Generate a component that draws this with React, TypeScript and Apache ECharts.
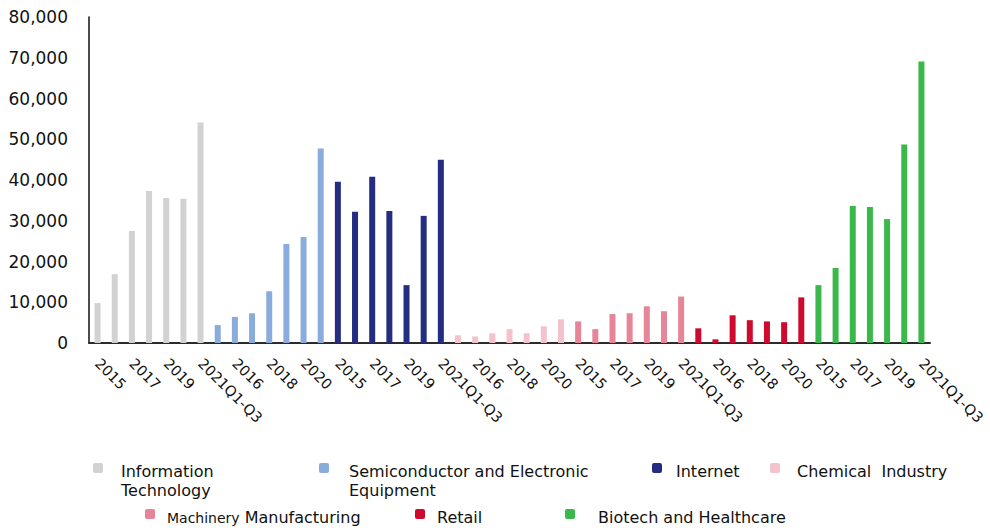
import React, { useEffect, useRef } from 'react';
import * as echarts from 'echarts';

const years = ['2015', '2016', '2017', '2018', '2019', '2020', '2021Q1-Q3'];
const industries = [
  'Information Technology',
  'Semiconductor and Electronic Equipment',
  'Internet',
  'Chemical  Industry',
  'Machinery Manufacturing',
  'Retail',
  'Biotech and Healthcare',
];
const itValues = [9800, 16900, 27500, 37300, 35600, 35400, 54100];
const semiValues = [4400, 6400, 7300, 12700, 24300, 26000, 47700];
const internetValues = [39600, 32200, 40800, 32400, 14200, 31200, 45000];
const chemicalValues = [1900, 1600, 2400, 3400, 2400, 4100, 5800];
const machineryValues = [5300, 3400, 7100, 7300, 9000, 7800, 11400];
const retailValues = [3600, 900, 6800, 5600, 5300, 5100, 11200];
const biotechValues = [14200, 18400, 33600, 33400, 30400, 48700, 69100];
const yTicks = { min: 0, max: 80000, interval: 10000 };

const seriesValues = [itValues, semiValues, internetValues, chemicalValues, machineryValues, retailValues, biotechValues];
const colors = ['#D2D2D2', '#8AACDC', '#252D80', '#F4C2CC', '#E68598', '#CE0A2E', '#3BB84B'];
const FONT = 'DejaVu Sans';

// legend label text (display) and layout (style only)
const legendTexts = [
  'Information\nTechnology',
  'Semiconductor and Electronic\nEquipment',
  'Internet',
  'Chemical  Industry',
  '{s|Machinery} {n|Manufacturing}',
  'Retail',
  'Biotech and Healthcare',
];
const legendLayout = [
  { ix: 93, iy: 463, tx: 121, ty: 461.5 },
  { ix: 319, iy: 463, tx: 349, ty: 461.5 },
  { ix: 652, iy: 463, tx: 676, ty: 461.5 },
  { ix: 770, iy: 463, tx: 797, ty: 461.5 },
  { ix: 145, iy: 509, tx: 167, ty: 508.3 },
  { ix: 415, iy: 509, tx: 437, ty: 508.3 },
  { ix: 565, iy: 509, tx: 598, ty: 508.3 },
];

export default function App() {
  const ref = useRef<HTMLDivElement>(null);
  useEffect(() => {
    document.body.style.margin = '0';
    const chart = echarts.init(ref.current!, null, { renderer: 'svg' });
    const categories: string[] = [];
    industries.forEach(() => years.forEach((y) => categories.push(y)));
    const n = categories.length;
    const series = industries.map((name, g) => {
      const data: (number | string)[] = new Array(n).fill('-');
      seriesValues[g].forEach((v, i) => {
        data[g * years.length + i] = v;
      });
      return {
        name,
        type: 'bar',
        stack: 'all',
        barWidth: 6,
        data,
        itemStyle: { color: colors[g] },
      };
    });
    const graphic: any[] = [];
    industries.forEach((name, i) => {
      const l = legendLayout[i];
      graphic.push({
        type: 'rect',
        shape: { x: l.ix, y: l.iy, width: 10, height: 10, r: 2 },
        style: { fill: colors[i] },
      });
      graphic.push({
        type: 'text',
        x: l.tx,
        y: l.ty,
        style: {
          text: legendTexts[i],
          fontSize: 16,
          fontFamily: FONT,
          fill: '#111',
          lineHeight: 19,
          verticalAlign: 'top',
          rich: {
            s: { fontSize: 14, fontFamily: FONT, fill: '#111', lineHeight: 19 },
            n: { fontSize: 16, fontFamily: FONT, fill: '#111', lineHeight: 19 },
          },
        },
      });
    });
    chart.setOption({
      animation: false,
      textStyle: { fontFamily: FONT },
      grid: { left: 89, right: 60, top: 17, bottom: 185, containLabel: false },
      xAxis: {
        type: 'category',
        data: categories,
        axisLine: { show: true, lineStyle: { color: '#2b2b2b', width: 2 } },
        axisTick: { show: false },
        axisLabel: {
          interval: 1,
          rotate: -45,
          margin: 18,
          fontSize: 14.5,
          fontFamily: FONT,
          color: '#111',
        },
      },
      yAxis: {
        type: 'value',
        min: yTicks.min,
        max: yTicks.max,
        interval: yTicks.interval,
        axisLine: { show: true, lineStyle: { color: '#111', width: 1.5 } },
        axisTick: { show: false },
        splitLine: { show: false },
        axisLabel: {
          margin: 21,
          fontSize: 17,
          fontFamily: FONT,
          color: '#111',
          formatter: (v: number) => v.toLocaleString('en-US'),
        },
      },
      series,
      graphic,
    });
    return () => chart.dispose();
  }, []);
  return <div ref={ref} style={{ width: 990, height: 528 }} />;
}
